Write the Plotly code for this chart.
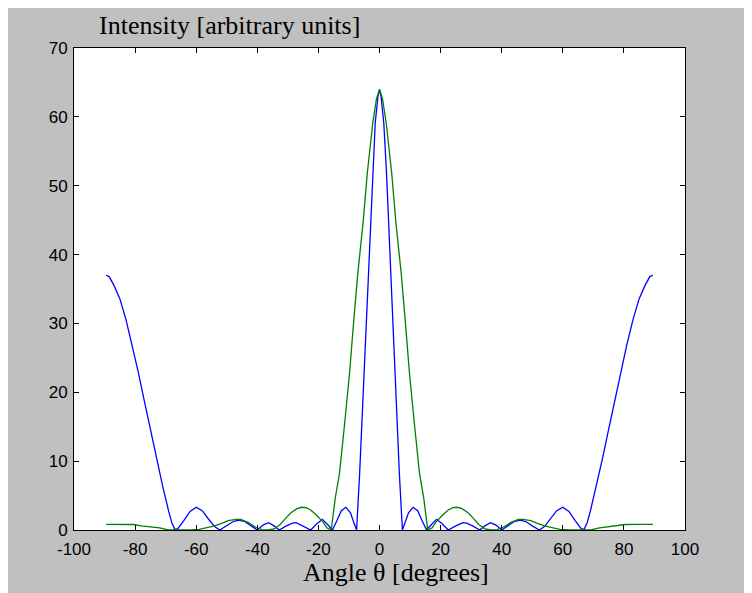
import plotly.graph_objects as go

# Blue series (angle in degrees, intensity)
blue_x = [-89.5, -88.5, -87, -85, -83, -81, -79, -77, -75, -73, -71, -69, -68, -67, -66, -64, -62, -60,
          -58, -56, -54, -52.3, -50, -48, -46, -44, -42, -40, -38, -36.3, -34.5, -32.8, -30.5, -28.5,
          -27.3, -25, -22.5, -20.5, -18.7, -17, -15.4, -14, -12.5, -11, -9.5, -8.5, -7.5, -6.5, -5.8,
          -5.1, -4.3, -3.7, -3.0, -2.3, -1.4, -0.5, 0,
          0.5, 1.4, 2.3, 3.0, 3.7, 4.3, 5.1, 5.8, 6.5, 7.5, 8.5, 9.5, 11, 12.5, 14, 15.4, 17, 18.7,
          20.5, 22.5, 25, 27.3, 28.5, 30.5, 32.8, 34.5, 36.3, 38, 40, 42, 44, 46, 48, 50, 52.3, 54, 56,
          58, 60, 62, 64, 66, 67, 68, 69, 71, 73, 75, 77, 79, 81, 83, 85, 87, 88.5, 89.5]
blue_y = [37.0, 36.8, 35.6, 33.6, 30.6, 27.0, 23.0, 18.8, 14.6, 10.4, 6.4, 2.7, 1.1, 0.1, 0.2, 1.4, 2.7, 3.3,
          2.8, 1.6, 0.5, 0.0, 0.6, 1.2, 1.45, 1.2, 0.6, 0.0, 0.75, 1.06, 0.6, 0.0, 0.6, 1.0,
          1.06, 0.6, 0.0, 0.9, 1.55, 0.8, 0.0, 1.3, 2.8, 3.3, 2.5, 1.2, 0.0, 8.2, 15.5,
          22.8, 30.0, 37.3, 44.5, 51.8, 59.1, 63.0, 63.9,
          63.0, 59.1, 51.8, 44.5, 37.3, 30.0, 22.8, 15.5, 8.2, 0.0, 1.2, 2.5, 3.3, 2.8, 1.3, 0.0, 0.8, 1.55,
          0.9, 0.0, 0.6, 1.06, 1.0, 0.6, 0.0, 0.6, 1.06, 0.75, 0.0, 0.6, 1.2, 1.45, 1.2, 0.6, 0.0, 0.5, 1.6,
          2.8, 3.3, 2.7, 1.4, 0.2, 0.1, 1.1, 2.7, 6.4, 10.4, 14.6, 18.8, 23.0, 27.0, 30.6, 33.6, 35.6, 36.8, 37.0]

# Green series
green_x = [-89.5, -84, -80.5, -78, -75, -72, -69.5, -67, -62, -59, -56.5, -54, -51.5, -49.5, -47, -45.5,
           -43, -40.5, -38.5, -36.5, -34.5, -32.5, -30.5, -29, -27, -25.5, -24, -22.5, -20.5, -18.5, -17.2,
           -15.8, -14.5, -13.1, -11.4, -9.8, -8.5, -7.1, -5.4, -4.0, -2.2, -1, 0,
           1, 2.2, 4.0, 5.4, 7.1, 8.5, 9.8, 11.4, 13.1, 14.5, 15.8, 17.2, 18.5, 20.5, 22.5, 24, 25.5, 27,
           29, 30.5, 32.5, 34.5, 36.5, 38.5, 40.5, 43, 45.5, 47, 49.5, 51.5, 54, 56.5, 59, 62, 67, 69.5,
           72, 75, 78, 80.5, 84, 89.5]
green_y = [0.83, 0.83, 0.8, 0.6, 0.45, 0.3, 0.05, 0.0, 0.0, 0.1, 0.35, 0.6, 1.0, 1.35, 1.55, 1.55,
           1.1, 0.4, 0.05, 0.0, 0.15, 0.8, 1.8, 2.5, 3.1, 3.3, 3.25, 2.9, 2.1, 1.15, 0.3,
           0.0, 4.6, 8.2, 15.5, 22.8, 30.0, 37.3, 44.5, 51.8, 59.1, 62.6, 64.0,
           62.6, 59.1, 51.8, 44.5, 37.3, 30.0, 22.8, 15.5, 8.2, 4.6, 0.0, 0.3, 1.15, 2.1, 2.9, 3.25, 3.3, 3.1,
           2.5, 1.8, 0.8, 0.15, 0.0, 0.05, 0.4, 1.1, 1.55, 1.55, 1.35, 1.0, 0.6, 0.35, 0.1, 0.0, 0.0, 0.05,
           0.3, 0.45, 0.6, 0.8, 0.83, 0.83]

x_ticks = [-100, -80, -60, -40, -20, 0, 20, 40, 60, 80, 100]
y_ticks = [0, 10, 20, 30, 40, 50, 60, 70]

# page has an 8px body margin; figure coordinates are page coordinates minus 8
OFF = 8
W, H = 752 - OFF, 593 - OFF
L, R, T, B = 74 - OFF, 752 - 685, 48 - OFF, 593 - 530
pw, ph = W - L - R, H - T - B


def px(x_page):
    return (x_page - OFF - L) / pw


def py(y_page):
    return (H - B - (y_page - OFF)) / ph


fig = go.Figure()
fig.add_trace(go.Scatter(x=blue_x, y=blue_y, mode="lines",
                         line=dict(color="#0000FF", width=1.3), showlegend=False))
fig.add_trace(go.Scatter(x=green_x, y=green_y, mode="lines",
                         line=dict(color="#008000", width=1.3), showlegend=False))

axis_common = dict(showline=True, linecolor="black", linewidth=1, mirror="ticks",
                   ticks="inside", ticklen=5, tickcolor="black", tickwidth=1,
                   showgrid=False, zeroline=False,
                   tickfont=dict(family="Liberation Sans, Arial", size=17, color="black"))

fig.update_xaxes(range=[-100, 100], tickvals=x_ticks, ticktext=[str(v) for v in x_ticks],
                 ticklabelstandoff=4, **axis_common)
fig.update_yaxes(range=[0, 70], tickvals=y_ticks, ticktext=[str(v) for v in y_ticks],
                 ticklabelstandoff=2, **axis_common)

annotations = [
    dict(text="Intensity [arbitrary units]", xref="paper", yref="paper",
         x=px(97), y=py(26), xanchor="left", yanchor="middle", showarrow=False,
         font=dict(family="Liberation Serif, Times New Roman", size=26, color="black")),
    dict(text="Angle θ [degrees]", xref="paper", yref="paper",
         x=px(395.5), y=py(572), xanchor="center", yanchor="middle", showarrow=False,
         font=dict(family="Liberation Serif, Times New Roman", size=26, color="black")),
]

fig.update_layout(width=W, height=H, margin=dict(l=L, r=R, t=T, b=B, pad=0),
                  paper_bgcolor="#C0C0C0", plot_bgcolor="white",
                  annotations=annotations, showlegend=False)

fig.write_html("out.html")
